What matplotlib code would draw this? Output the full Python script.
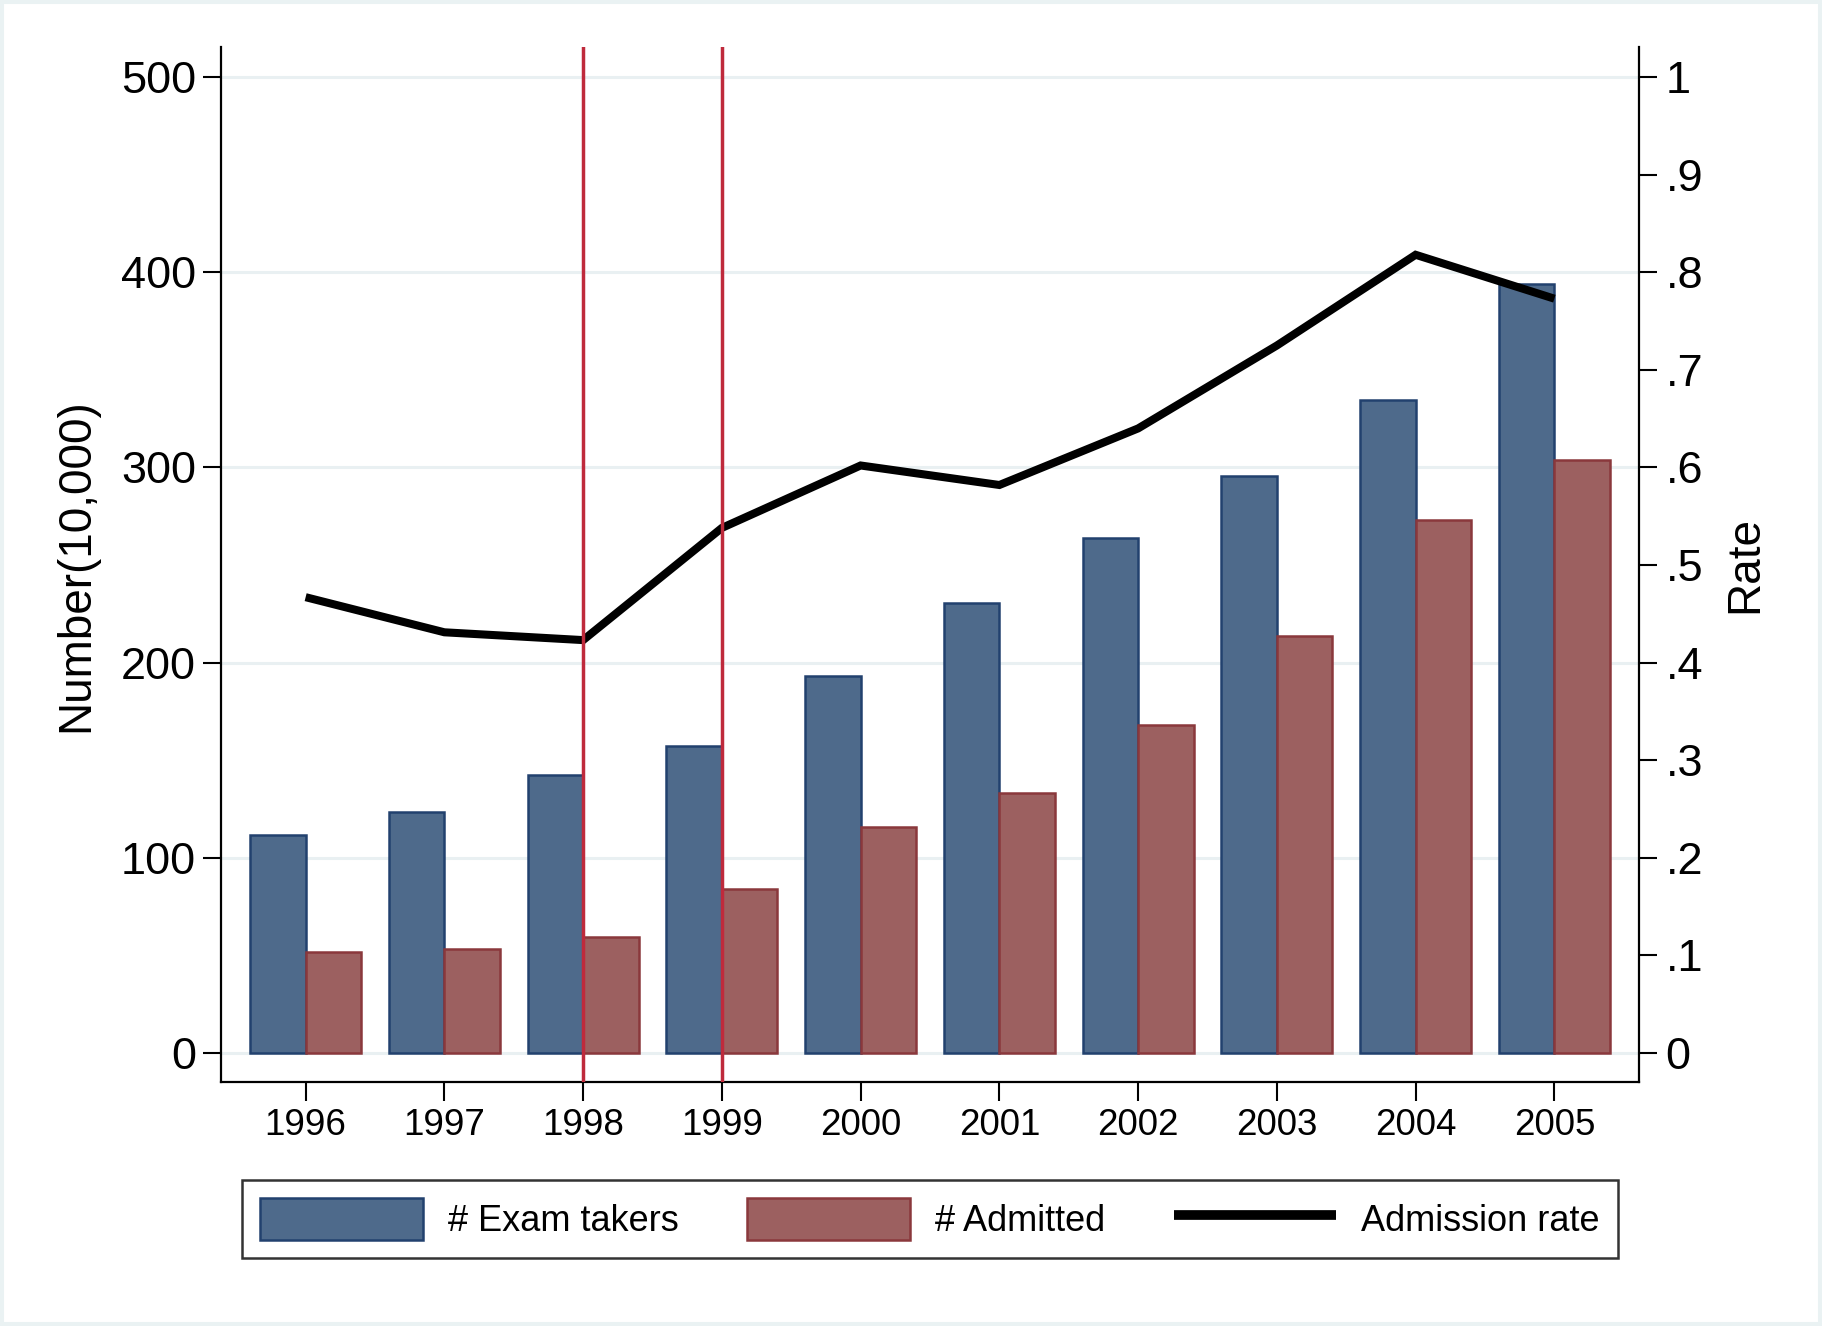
import matplotlib
matplotlib.use("Agg")
import matplotlib.pyplot as plt
from matplotlib.patches import Patch, Rectangle
from matplotlib.lines import Line2D

years = [1996, 1997, 1998, 1999, 2000, 2001, 2002, 2003, 2004, 2005]
exam_takers = [111.5, 123.2, 142.3, 157.1, 192.9, 230.4, 263.7, 295.8, 334.5, 394.0]
admitted = [51.5, 53.0, 59.5, 83.9, 115.5, 133.3, 167.9, 213.7, 273.2, 303.6]
admission_rate = [0.467, 0.431, 0.423, 0.538, 0.602, 0.582, 0.640, 0.725, 0.818, 0.773]
marker_years = [1998, 1999]
left_ticks = [0, 100, 200, 300, 400, 500]
right_ticks = [0, .1, .2, .3, .4, .5, .6, .7, .8, .9, 1]
right_labels = ["0", ".1", ".2", ".3", ".4", ".5", ".6", ".7", ".8", ".9", "1"]

plt.rcParams['font.family'] = ['Liberation Sans', 'DejaVu Sans']

W, H = 1822, 1326
fig = plt.figure(figsize=(W / 100, H / 100), dpi=100)
fig.patch.set_facecolor('white')
fig.patches.append(Rectangle((0, 0), 1, 1, transform=fig.transFigure, fill=False,
                             edgecolor='#eaf2f3', linewidth=5.8))

L, R, T, B = 221, 1639, 47, 1082
ax = fig.add_axes([L / W, 1 - B / H, (R - L) / W, (B - T) / H])
ax2 = ax.twinx()

blue_fill, blue_edge = '#4e6a8b', '#22416e'
red_fill, red_edge = '#9c6060', '#8a383c'
bw = 0.4
ax.bar(years, exam_takers, width=bw, align='edge', color=blue_fill, edgecolor=blue_edge,
       linewidth=1.8, zorder=2)
ax.bar(years, admitted, width=bw, align='edge', color=red_fill, edgecolor=red_edge,
       linewidth=1.8, zorder=2)
# blue bar sits left of the tick, red bar right of it
for p in ax.patches[:len(years)]:
    p.set_x(p.get_x() - bw)

ylo, yhi = -15, 515.5
ax.set_ylim(ylo, yhi)
ax.set_xlim(1995.39, 2005.61)
ax.set_yticks(left_ticks)
ax.set_yticklabels([str(t) for t in left_ticks])
ax.set_xticks(years)
ax.set_xticklabels([str(y) for y in years])
ax.grid(axis='y', color='#e9f0f2', linewidth=2.2, zorder=0)
ax.set_axisbelow(True)

ax2.set_ylim(ylo / 500, yhi / 500)
ax2.set_yticks(right_ticks)
ax2.set_yticklabels(right_labels)
ax2.plot(years, admission_rate, color='black', linewidth=5.8, solid_capstyle='butt',
         solid_joinstyle='miter', zorder=3)
for my in marker_years:
    ax2.axvline(my, color='#bf2a3c', linewidth=2.5, zorder=4)

for a in (ax, ax2):
    a.spines['top'].set_visible(False)
    for s in a.spines.values():
        s.set_linewidth(1.6)
ax.spines['right'].set_visible(False)
ax2.spines['left'].set_visible(False)
ax2.spines['bottom'].set_visible(False)

ax.tick_params(axis='y', labelsize=32.5, length=13, width=1.5, pad=5)
ax.tick_params(axis='x', labelsize=26.5, length=13.5, width=1.5, pad=5)
ax2.tick_params(axis='y', labelsize=32.5, length=13, width=1.5, pad=6)

fig.text(76 / W, 1 - 565 / H, 'Number(10,000)', rotation=90, ha='center', va='center',
         fontsize=33)
fig.text(1745 / W, 1 - 564 / H, 'Rate', rotation=90, ha='center', va='center', fontsize=33)

handles = [
    Patch(facecolor=blue_fill, edgecolor=blue_edge, linewidth=1.8, label='# Exam takers'),
    Patch(facecolor=red_fill, edgecolor=red_edge, linewidth=1.8, label='# Admitted'),
    Line2D([], [], color='black', linewidth=7, solid_capstyle='butt', label='Admission rate'),
]
leg = fig.legend(handles=handles, loc='center', bbox_to_anchor=(930 / W, 1 - 1219 / H),
                 ncol=3, fontsize=26, frameon=True, fancybox=False, edgecolor='black',
                 handlelength=4.5, handleheight=1.4, handletextpad=0.7, columnspacing=1.9,
                 borderpad=0.5)
leg.get_frame().set_linewidth(1.8)

fig.savefig('out.png', dpi=100, facecolor='white')
